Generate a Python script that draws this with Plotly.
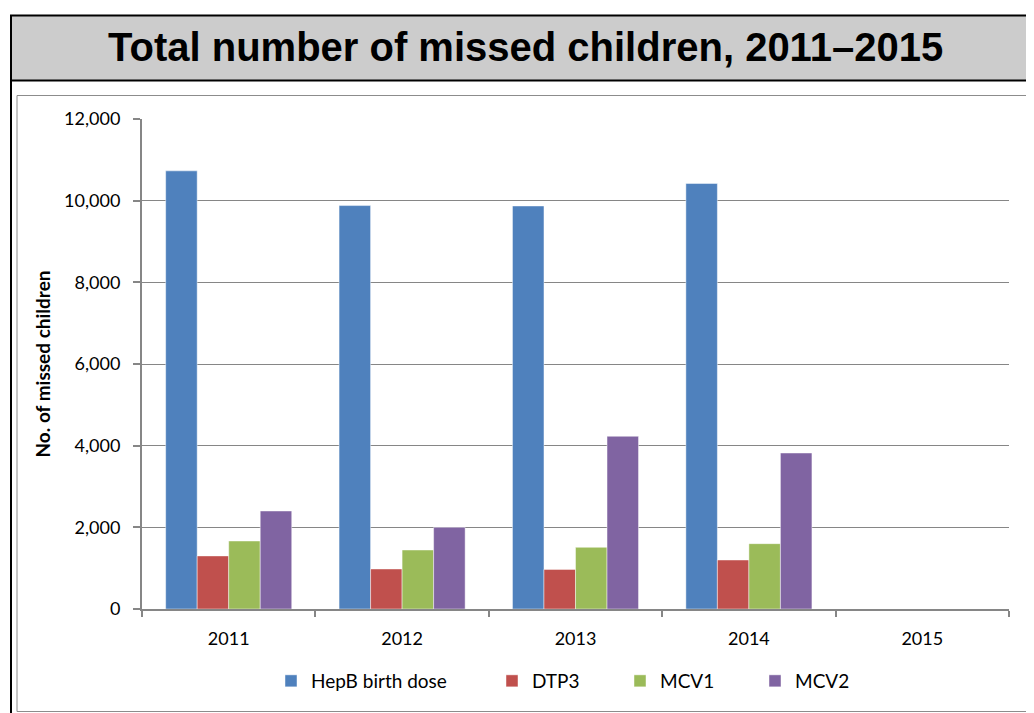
import plotly.graph_objects as go

# ---- data ----
years = ["2011", "2012", "2013", "2014", "2015"]
hepb = [10730, 9880, 9870, 10420, None]
dtp3 = [1300, 980, 970, 1200, None]
mcv1 = [1665, 1445, 1510, 1600, None]
mcv2 = [2400, 2000, 4230, 3820, None]
series_names = ["HepB birth dose", "DTP3", "MCV1", "MCV2"]
series_colors = ["#4F81BD", "#C0504D", "#9BBB59", "#8064A2"]
y_ticks = [0, 2000, 4000, 6000, 8000, 10000, 12000]
y_ticktext = ["0", "2,000", "4,000", "6,000", "8,000", "10,000", "12,000"]
title_text = "Total number of missed children, 2011\u20132015"
ytitle_text = "No. of missed children"

# ---- geometry (reference pixels; page body has an 8px margin) ----
OFF = 8
W, H = 1034 - OFF, 713 - OFF
L, R, T, B = 142, 1009, 119, 609
pw, ph = R - L, B - T

def fx(px):
    return (px - L) / pw

def fy(py):
    return (B - py) / ph

tick_font = dict(family="Lato, Carlito, sans-serif", size=18, color="#000000")
legend_font = dict(family="Lato, Carlito, sans-serif", size=19, color="#000000")
axis_gray = "#868686"

fig = go.Figure()
legend_ids = ["legend", "legend2", "legend3", "legend4"]
values = [hepb, dtp3, mcv1, mcv2]
for name, vals, col, lg in zip(series_names, values, series_colors, legend_ids):
    fig.add_trace(go.Bar(
        x=years, y=vals, name=name, legend=lg,
        marker=dict(color=col, line=dict(color="rgba(255,255,255,0.45)", width=1)),
    ))

legend_sq_x = [288, 509, 637, 772]
legend_y = 681
legends = {}
for lg, sx in zip(legend_ids, legend_sq_x):
    legends[lg] = dict(
        x=fx(sx - 17), y=fy(legend_y), xref="paper", yref="paper",
        xanchor="left", yanchor="middle", orientation="h",
        bgcolor="rgba(0,0,0,0)", borderwidth=0,
        font=legend_font, itemclick=False, itemdoubleclick=False,
    )

shapes = [
    dict(type="rect", xref="paper", yref="paper", x0=fx(12), x1=fx(1045),
         y0=fy(16), y1=fy(80), fillcolor="#CCCCCC", line=dict(width=0), layer="below"),
    dict(type="line", xref="paper", yref="paper", x0=fx(11), x1=fx(1045),
         y0=fy(80.5), y1=fy(80.5), line=dict(color="#000000", width=2)),
    dict(type="rect", xref="paper", yref="paper", x0=fx(11), x1=fx(1045),
         y0=fy(15.5), y1=fy(725), line=dict(color="#000000", width=2)),
    dict(type="rect", xref="paper", yref="paper", x0=fx(17), x1=fx(1031.5),
         y0=fy(95.5), y1=fy(711.5), line=dict(color="#8C8C8C", width=1)),
]

annotations = [
    dict(text=title_text, xref="paper", yref="paper", x=fx(525.5), y=fy(47),
         xanchor="center", yanchor="middle", showarrow=False,
         font=dict(family="Liberation Sans, Arial, sans-serif", size=40,
                   color="#000000", weight="bold")),
]

fig.update_layout(
    width=W, height=H,
    margin=dict(l=L - OFF, r=(1034 - R), t=T - OFF, b=(713 - B), pad=0),
    paper_bgcolor="#FFFFFF", plot_bgcolor="#FFFFFF",
    barmode="group", bargap=0.273, bargroupgap=0,
    showlegend=True,
    shapes=shapes, annotations=annotations,
    **legends,
)

fig.update_xaxes(
    type="category", range=[-0.5, 4.5],
    showline=True, linecolor=axis_gray, linewidth=2,
    ticks="outside", tickson="boundaries", ticklen=6, tickcolor=axis_gray, tickwidth=1.5,
    showgrid=False, tickfont=tick_font, ticklabelstandoff=12,
)
fig.update_yaxes(
    range=[0, 12000], tickvals=y_ticks, ticktext=y_ticktext,
    showline=True, linecolor=axis_gray, linewidth=2,
    ticks="outside", ticklen=7, tickcolor=axis_gray, tickwidth=1.5,
    showgrid=True, gridcolor=axis_gray, gridwidth=1.2, zeroline=False,
    tickfont=tick_font, ticklabelstandoff=9,
    title=dict(text=ytitle_text, standoff=8,
               font=dict(family="Lato, Carlito, sans-serif", size=19, color="#000000", weight="bold")),
)

fig.write_html("out.html")
